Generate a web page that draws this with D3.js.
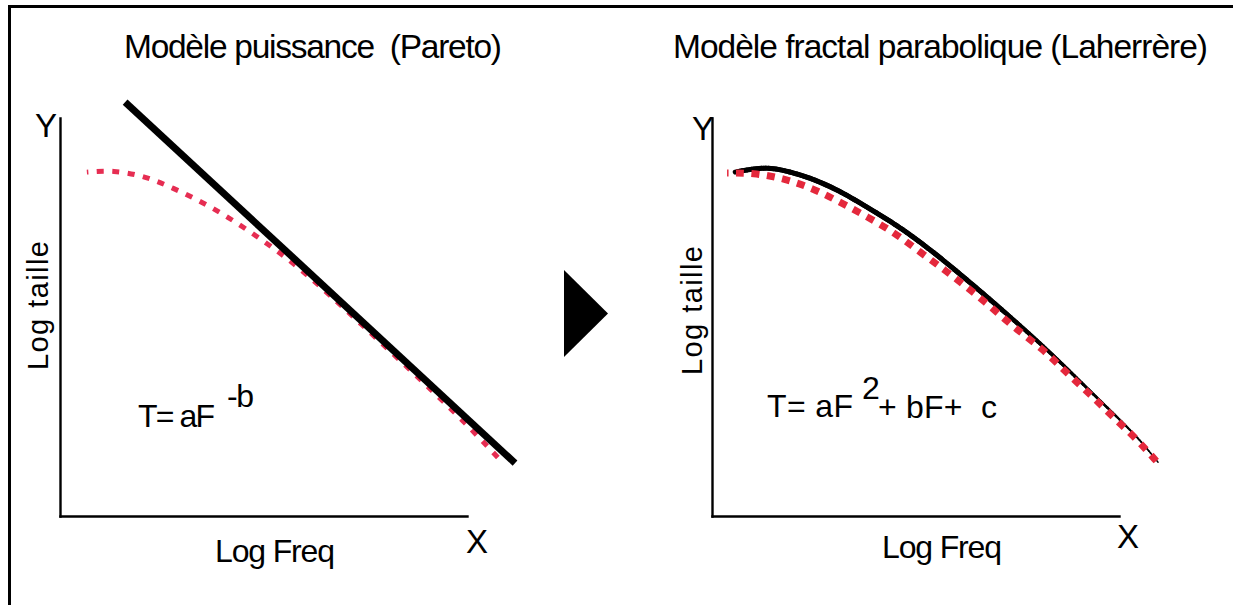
<!DOCTYPE html>
<html>
<head>
<meta charset="utf-8">
<script src="https://cdn.jsdelivr.net/npm/d3@7"></script>
<style>
    body { margin: 0; background: #fff; }
    svg text { font-family: "Liberation Sans", Arial, Helvetica, sans-serif; fill: #000; white-space: pre; }
</style>
</head>
<body>
<div class="chart"></div>
<script>
// titles and labels
const titles = ['Modèle puissance  (Pareto)', 'Modèle fractal parabolique (Laherrère)'];
const axisLabels = ['Log Freq', 'Log taille'];
const cornerLabels = ['X', 'Y'];
const paretoFormula = ['T= aF', '-b'];
const parabolicFormula = ['T= aF', '2', '+ bF+  c'];

// left panel: power law fit (straight line) and observed curve, log units
const paretoFitX = [1.60, 11.18];
const paretoFitY = [10.40, 1.33];
const paretoObsX = [0.66, 1.30, 2.09, 2.78, 3.49, 4.13, 4.79, 5.41, 6.02, 6.63, 7.37, 8.35, 9.46, 10.00, 10.54, 10.81];
const paretoObsY = [8.64, 8.69, 8.54, 8.24, 7.89, 7.51, 7.06, 6.61, 6.11, 5.55, 4.85, 3.92, 2.84, 2.29, 1.71, 1.41];

// right panel: parabolic fit and observed curve, log units
const parabolicFitX = [0.57, 1.35, 2.16, 2.97, 3.81, 4.62, 5.43, 6.76, 8.13, 9.31, 10.44, 10.96];
const parabolicFitY = [8.64, 8.74, 8.57, 8.24, 7.76, 7.24, 6.63, 5.50, 4.27, 3.12, 1.98, 1.35];
const parabolicObsX = [0.37, 1.01, 1.74, 2.46, 3.14, 3.83, 4.50, 5.11, 5.72, 6.29, 6.88, 7.44, 8.13, 8.72, 9.31, 9.85, 10.44, 10.96];
const parabolicObsY = [8.62, 8.62, 8.49, 8.24, 7.89, 7.51, 7.11, 6.63, 6.18, 5.73, 5.23, 4.72, 4.20, 3.59, 3.04, 2.49, 1.93, 1.33];

const zip = (xs, ys) => xs.map((x, i) => ({ x, y: ys[i] }));

class ModelCharts {
    constructor() {
        this.width = 1233;
        this.height = 605;

        this.svg = d3.select('.chart')
            .append('svg')
            .attr('width', this.width)
            .attr('height', this.height);

        this.drawFrame();
        this.drawPareto();
        this.drawArrow();
        this.drawParabolic();
    }

    drawFrame() {
        // only the top and left edges of the box are inside the picture
        this.svg.append('rect')
            .attr('x', 9.5)
            .attr('y', 6.5)
            .attr('width', this.width + 20)
            .attr('height', this.height + 20)
            .attr('fill', 'none')
            .attr('stroke', '#000')
            .attr('stroke-width', 3);
    }

    makeScales(x0, x1) {
        return {
            x: d3.scaleLinear().domain([0, 10]).range([x0, x1]),
            y: d3.scaleLinear().domain([0, 10]).range([516, 118]),
        };
    }

    addAxes(g, s) {
        g.append('g')
            .attr('class', 'x-axis')
            .attr('transform', `translate(0,${s.y(0)})`)
            .call(d3.axisBottom(s.x).tickValues([]).tickSizeOuter(0));
        g.append('g')
            .attr('class', 'y-axis')
            .attr('transform', `translate(${s.x(0)},0)`)
            .call(d3.axisLeft(s.y).tickValues([]).tickSizeOuter(0));
        g.selectAll('.domain')
            .attr('stroke', '#000')
            .attr('stroke-width', 2.4)
            .attr('stroke-linecap', 'square');
    }

    addText(g, str, x, y, size, len) {
        const t = g.append('text')
            .attr('x', x)
            .attr('y', y)
            .attr('font-size', size)
            .text(str);
        if (len) t.attr('textLength', len).attr('lengthAdjust', 'spacing');
        return t;
    }

    addLabels(g, o) {
        this.addText(g, o.title, o.titleX, 57.5, 33.5, o.titleLen);
        this.addText(g, axisLabels[0], o.freqX, o.freqY, 32, 120);
        g.append('text')
            .attr('transform', `translate(${o.sizeX},${o.sizeY}) rotate(-90)`)
            .attr('font-size', 29)
            .attr('textLength', 129)
            .attr('lengthAdjust', 'spacing')
            .text(axisLabels[1]);
        this.addText(g, cornerLabels[0], o.xLabelX, o.xLabelY, 33);
        this.addText(g, cornerLabels[1], o.yLabelX, o.yLabelY, 33);
    }

    drawPareto() {
        const g = this.svg.append('g').attr('class', 'panel-pareto');
        const s = this.makeScales(60, 467);
        this.addAxes(g, s);

        const line = d3.line().x((d) => s.x(d.x)).y((d) => s.y(d.y));

        g.append('path')
            .datum(zip(paretoObsX, paretoObsY))
            .attr('d', line.curve(d3.curveBasis))
            .attr('fill', 'none')
            .attr('stroke', '#e62d52')
            .attr('stroke-width', 5)
            .attr('stroke-dasharray', '7 8.5')
            .attr('stroke-dashoffset', 5.5);

        g.append('path')
            .datum(zip(paretoFitX, paretoFitY))
            .attr('d', line.curve(d3.curveLinear))
            .attr('fill', 'none')
            .attr('stroke', '#000')
            .attr('stroke-width', 7);

        this.addLabels(g, {
            title: titles[0], titleX: 124, titleLen: 378,
            freqX: 215, freqY: 562,
            sizeX: 48, sizeY: 370,
            xLabelX: 466, xLabelY: 553,
            yLabelX: 35, yLabelY: 137,
        });

        this.addText(g, paretoFormula[0], 138, 427, 32, 77);
        this.addText(g, paretoFormula[1], 227, 407, 32, 27);
    }

    drawArrow() {
        const cx = 564;
        const cy = 313.5;
        this.svg.append('path')
            .attr('d', d3.line()([[cx, cy - 43.5], [cx + 44, cy], [cx, cy + 43.5]]) + 'Z')
            .attr('fill', '#000');
    }

    drawParabolic() {
        const g = this.svg.append('g').attr('class', 'panel-parabolic');
        const s = this.makeScales(712, 1119);
        this.addAxes(g, s);

        const line = d3.line().x((d) => s.x(d.x)).y((d) => s.y(d.y));

        // black fit: thick at the top, tapering towards the tail
        const guide = g.append('path')
            .datum(zip(parabolicFitX, parabolicFitY))
            .attr('d', line.curve(d3.curveCatmullRom.alpha(0.5)))
            .attr('fill', 'none')
            .attr('stroke', 'none');
        const node = guide.node();
        const total = node.getTotalLength();
        const n = 220;
        const pts = d3.range(n + 1).map((i) => node.getPointAtLength(total * i / n));
        const widthAt = (t) => (t < 0.55 ? 5 : 5 - (t - 0.55) / 0.45 * 3.6);
        g.append('g')
            .attr('class', 'fit-line')
            .selectAll('line')
            .data(d3.range(n))
            .enter()
            .append('line')
            .attr('x1', (i) => pts[i].x)
            .attr('y1', (i) => pts[i].y)
            .attr('x2', (i) => pts[i + 1].x)
            .attr('y2', (i) => pts[i + 1].y)
            .attr('stroke', '#000')
            .attr('stroke-linecap', 'round')
            .attr('stroke-width', (i) => widthAt(i / n));

        g.append('path')
            .datum(zip(parabolicObsX, parabolicObsY))
            .attr('d', line.curve(d3.curveBasis))
            .attr('fill', 'none')
            .attr('stroke', '#e4283c')
            .attr('stroke-width', 7)
            .attr('stroke-dasharray', '8 7.5')
            .attr('stroke-dashoffset', 6.5);

        this.addLabels(g, {
            title: titles[1], titleX: 673, titleLen: 535,
            freqX: 882, freqY: 558,
            sizeX: 702, sizeY: 375,
            xLabelX: 1117, xLabelY: 548,
            yLabelX: 692, yLabelY: 140,
        });

        this.addText(g, parabolicFormula[0], 767, 417, 32, 86);
        this.addText(g, parabolicFormula[1], 862, 399, 32, 17);
        this.addText(g, parabolicFormula[2], 878, 418, 32, 119);
    }
}

new ModelCharts();
</script>
</body>
</html>
